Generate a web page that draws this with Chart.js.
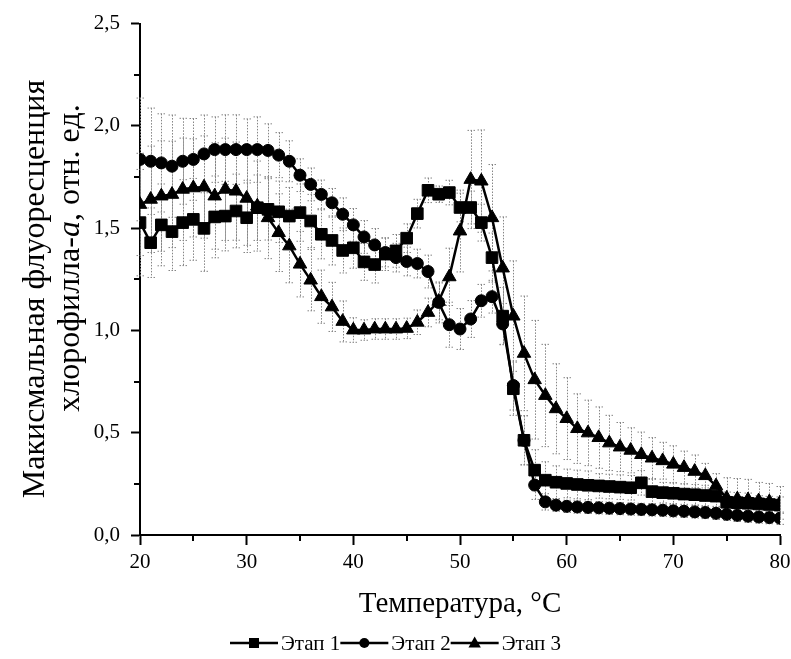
<!DOCTYPE html>
<html>
<head>
<meta charset="utf-8">
<script src="https://cdn.jsdelivr.net/npm/chart.js@4.4.1/dist/chart.umd.min.js"></script>
<style>
  html, body { margin: 0; padding: 0; background: #fff; }
  #wrap { width: 791px; height: 659px; }
</style>
</head>
<body>
<div id="wrap"><canvas id="fluoChart" width="791" height="659"></canvas></div>
<script>
// температура, °C
const temps = [20, 21, 22, 23, 24, 25, 26, 27, 28, 29, 30, 31, 32, 33, 34, 35, 36, 37, 38, 39,
  40, 41, 42, 43, 44, 45, 46, 47, 48, 49, 50, 51, 52, 53, 54, 55, 56, 57, 58, 59,
  60, 61, 62, 63, 64, 65, 66, 67, 68, 69, 70, 71, 72, 73, 74, 75, 76, 77, 78, 79, 80];

const stage1 = [1.527, 1.429, 1.516, 1.483, 1.527, 1.543, 1.499, 1.555, 1.559, 1.584,
  1.551, 1.600, 1.592, 1.580, 1.559, 1.576, 1.535, 1.470, 1.440, 1.391,
  1.404, 1.335, 1.322, 1.373, 1.389, 1.451, 1.571, 1.685, 1.666, 1.674,
  1.601, 1.601, 1.527, 1.356, 1.070, 0.715, 0.463, 0.317, 0.268, 0.258,
  0.252, 0.247, 0.243, 0.240, 0.237, 0.234, 0.231, 0.255, 0.212, 0.207,
  0.204, 0.200, 0.197, 0.193, 0.190, 0.160, 0.158, 0.155, 0.152, 0.149, 0.146];

const stage2 = [1.836, 1.827, 1.819, 1.803, 1.827, 1.836, 1.863, 1.884, 1.884, 1.884,
  1.884, 1.884, 1.880, 1.857, 1.827, 1.759, 1.714, 1.665, 1.624, 1.568,
  1.516, 1.457, 1.418, 1.381, 1.356, 1.337, 1.327, 1.288, 1.137, 1.028,
  1.007, 1.056, 1.145, 1.165, 1.032, 0.731, 0.463, 0.244, 0.162, 0.146,
  0.140, 0.137, 0.135, 0.133, 0.131, 0.129, 0.127, 0.125, 0.123, 0.121,
  0.118, 0.116, 0.113, 0.110, 0.106, 0.101, 0.096, 0.092, 0.088, 0.085, 0.082];

const stage3 = [1.616, 1.641, 1.657, 1.665, 1.690, 1.697, 1.701, 1.657, 1.690, 1.681,
  1.646, 1.608, 1.551, 1.478, 1.413, 1.324, 1.246, 1.165, 1.115, 1.044,
  1.002, 1.002, 1.007, 1.007, 1.007, 1.010, 1.040, 1.088, 1.142, 1.262,
  1.486, 1.738, 1.730, 1.551, 1.305, 1.070, 0.888, 0.759, 0.682, 0.617,
  0.569, 0.520, 0.499, 0.476, 0.450, 0.430, 0.414, 0.393, 0.376, 0.363,
  0.346, 0.330, 0.311, 0.290, 0.240, 0.180, 0.176, 0.172, 0.167, 0.162, 0.157];

// стандартные отклонения
const err1 = [0.26, 0.17, 0.20, 0.19, 0.21, 0.20, 0.21, 0.20, 0.17, 0.18,
  0.17, 0.16, 0.15, 0.15, 0.14, 0.14, 0.13, 0.12, 0.12, 0.11,
  0.10, 0.09, 0.09, 0.08, 0.08, 0.07, 0.07, 0.06, 0.04, 0.06,
  0.07, 0.08, 0.09, 0.12, 0.14, 0.13, 0.12, 0.10, 0.09, 0.08,
  0.07, 0.07, 0.07, 0.06, 0.06, 0.06, 0.06, 0.06, 0.06, 0.05,
  0.05, 0.05, 0.05, 0.05, 0.05, 0.05, 0.05, 0.05, 0.04, 0.04, 0.04];

const err2 = [0.30, 0.26, 0.24, 0.25, 0.21, 0.20, 0.19, 0.16, 0.17, 0.17,
  0.15, 0.16, 0.13, 0.11, 0.10, 0.08, 0.08, 0.07, 0.07, 0.08,
  0.08, 0.08, 0.08, 0.07, 0.07, 0.07, 0.07, 0.08, 0.10, 0.11,
  0.10, 0.09, 0.08, 0.08, 0.10, 0.12, 0.12, 0.07, 0.04, 0.03,
  0.03, 0.03, 0.03, 0.03, 0.03, 0.03, 0.03, 0.03, 0.03, 0.03,
  0.03, 0.03, 0.03, 0.03, 0.03, 0.03, 0.03, 0.03, 0.03, 0.03, 0.03];

const err3 = [0.25, 0.26, 0.27, 0.26, 0.25, 0.24, 0.25, 0.26, 0.25, 0.24,
  0.23, 0.22, 0.20, 0.19, 0.18, 0.16, 0.15, 0.13, 0.12, 0.10,
  0.06, 0.05, 0.05, 0.05, 0.05, 0.05, 0.06, 0.07, 0.09, 0.14,
  0.20, 0.24, 0.25, 0.26, 0.25, 0.27, 0.28, 0.29, 0.25, 0.22,
  0.20, 0.17, 0.16, 0.15, 0.135, 0.12, 0.11, 0.11, 0.10, 0.09,
  0.09, 0.08, 0.08, 0.06, 0.06, 0.10, 0.10, 0.10, 0.09, 0.09, 0.08];

const stageLabels = ['Этап 1', 'Этап 2', 'Этап 3'];
const yTickLabels = ['0,0', '0,5', '1,0', '1,5', '2,0', '2,5'];

const SERIF = "'Liberation Serif', 'Times New Roman', serif";
Chart.defaults.font.family = SERIF;
Chart.defaults.color = '#000';

function points(values) {
  return temps.map((t, i) => ({ x: t, y: values[i] }));
}

function series(label, values, errors, style, radius) {
  return {
    label,
    data: points(values),
    errors,
    borderColor: '#000',
    backgroundColor: '#000',
    borderWidth: 2.5,
    pointStyle: style,
    pointRadius: radius,
    pointHoverRadius: radius,
    pointBackgroundColor: '#000',
    pointBorderColor: '#000',
    pointBorderWidth: 1,
    tension: 0
  };
}

// пунктирные планки погрешностей
const errorBars = {
  id: 'errorBars',
  beforeDatasetsDraw(chart) {
    const { ctx, scales: { x, y } } = chart;
    ctx.save();
    ctx.strokeStyle = '#858585';
    ctx.lineWidth = 1;
    ctx.setLineDash([1.5, 1.5]);
    chart.data.datasets.forEach(ds => {
      ds.data.forEach((p, i) => {
        const e = ds.errors[i];
        const px = Math.round(x.getPixelForValue(p.x)) + 0.5;
        const top = y.getPixelForValue(p.y + e);
        const bot = y.getPixelForValue(p.y - e);
        ctx.beginPath();
        ctx.moveTo(px, top); ctx.lineTo(px, bot);
        ctx.moveTo(px - 4, top); ctx.lineTo(px + 4, top);
        ctx.moveTo(px - 4, bot); ctx.lineTo(px + 4, bot);
        ctx.stroke();
      });
    });
    ctx.restore();
  }
};

// промежуточные деления осей
const minorTicks = {
  id: 'minorTicks',
  afterDraw(chart) {
    const { ctx, scales: { x, y }, chartArea: a } = chart;
    ctx.save();
    ctx.strokeStyle = '#000';
    ctx.lineWidth = 2;
    ctx.beginPath();
    for (let t = 25; t < 80; t += 10) {
      const px = Math.round(x.getPixelForValue(t));
      ctx.moveTo(px, a.bottom); ctx.lineTo(px, a.bottom + 6);
    }
    for (let v = 0.25; v < 2.5; v += 0.5) {
      const py = Math.round(y.getPixelForValue(v));
      ctx.moveTo(a.left, py); ctx.lineTo(a.left - 6, py);
    }
    ctx.stroke();
    ctx.restore();
  }
};

// подпись оси Y в две строки, «a» курсивом
const yTitle = {
  id: 'yTitle',
  afterDraw(chart) {
    const ctx = chart.ctx;
    const size = 32;
    const normal = `${size}px ${SERIF}`;
    const italic = `italic ${size}px ${SERIF}`;
    ctx.save();
    ctx.fillStyle = '#000';
    ctx.textBaseline = 'middle';

    ctx.save();
    ctx.translate(36, 289);
    ctx.rotate(-Math.PI / 2);
    ctx.font = normal;
    ctx.textAlign = 'center';
    ctx.fillText('Макисмальная флуоресценция', 0, 0);
    ctx.restore();

    const parts = [['хлорофилла-', normal], ['a', italic], [', отн. ед.', normal]];
    let total = 0;
    parts.forEach(([s, f]) => { ctx.font = f; total += ctx.measureText(s).width; });
    ctx.save();
    ctx.translate(71, 258);
    ctx.rotate(-Math.PI / 2);
    ctx.textAlign = 'left';
    let cx = -total / 2;
    parts.forEach(([s, f]) => {
      ctx.font = f;
      ctx.fillText(s, cx, 0);
      cx += ctx.measureText(s).width;
    });
    ctx.restore();
    ctx.restore();
  }
};

// легенда: линия с маркером и название этапа
const lineLegend = {
  id: 'lineLegend',
  afterDraw(chart) {
    const ctx = chart.ctx;
    const y0 = 643;
    const sample = 48, gap = 3;
    ctx.save();
    ctx.font = `21px ${SERIF}`;
    ctx.textBaseline = 'middle';
    ctx.fillStyle = '#000';
    ctx.strokeStyle = '#000';
    const items = chart.data.datasets.map(ds => ({ ds, w: sample + gap + ctx.measureText(ds.label).width }));
    let x0 = chart.width / 2 - items.reduce((s, it) => s + it.w, 0) / 2;
    items.forEach(({ ds }) => {
      ctx.lineWidth = 2.5;
      ctx.beginPath();
      ctx.moveTo(x0, y0); ctx.lineTo(x0 + sample, y0);
      ctx.stroke();
      const mx = x0 + sample / 2;
      ctx.beginPath();
      if (ds.pointStyle === 'rect') {
        ctx.rect(mx - 5, y0 - 5, 10, 10);
      } else if (ds.pointStyle === 'circle') {
        ctx.arc(mx, y0, 5, 0, Math.PI * 2);
      } else {
        ctx.moveTo(mx, y0 - 6.5);
        ctx.lineTo(mx + 6.2, y0 + 4.5);
        ctx.lineTo(mx - 6.2, y0 + 4.5);
        ctx.closePath();
      }
      ctx.fill();
      ctx.fillText(ds.label, x0 + sample + gap, y0 + 1);
      x0 += sample + gap + ctx.measureText(ds.label).width;
    });
    ctx.restore();
  }
};

new Chart(document.getElementById('fluoChart'), {
  type: 'line',
  data: {
    datasets: [
      series(stageLabels[0], stage1, err1, 'rect', 8.2),
      series(stageLabels[1], stage2, err2, 'circle', 6),
      series(stageLabels[2], stage3, err3, 'triangle', 7.8)
    ]
  },
  options: {
    responsive: false,
    animation: false,
    layout: { padding: { left: 0, top: 22, right: 0, bottom: 0 } },
    plugins: {
      legend: { display: false },
      tooltip: { enabled: false }
    },
    scales: {
      x: {
        type: 'linear',
        min: 20,
        max: 80,
        afterFit(s) {
          s.height = 124;
          s.paddingRight = 11;
        },
        border: { display: true, color: '#000', width: 2 },
        grid: { drawOnChartArea: false, drawTicks: true, tickLength: 10, tickColor: '#000', tickWidth: 2 },
        ticks: { stepSize: 10, padding: 5, font: { size: 21 }, color: '#000', maxRotation: 0 },
        title: {
          display: true,
          text: 'Температура, °C',
          font: { size: 29 },
          padding: { top: 0, bottom: 37 }
        }
      },
      y: {
        min: 0,
        max: 2.5,
        afterFit(s) { s.width = 140; },
        border: { display: true, color: '#000', width: 2 },
        grid: { drawOnChartArea: false, drawTicks: true, tickLength: 9, tickColor: '#000', tickWidth: 2 },
        ticks: {
          stepSize: 0.5,
          padding: 11,
          font: { size: 21 },
          color: '#000',
          callback: (v, i) => yTickLabels[i]
        }
      }
    }
  },
  plugins: [errorBars, minorTicks, yTitle, lineLegend]
});
</script>
</body>
</html>
